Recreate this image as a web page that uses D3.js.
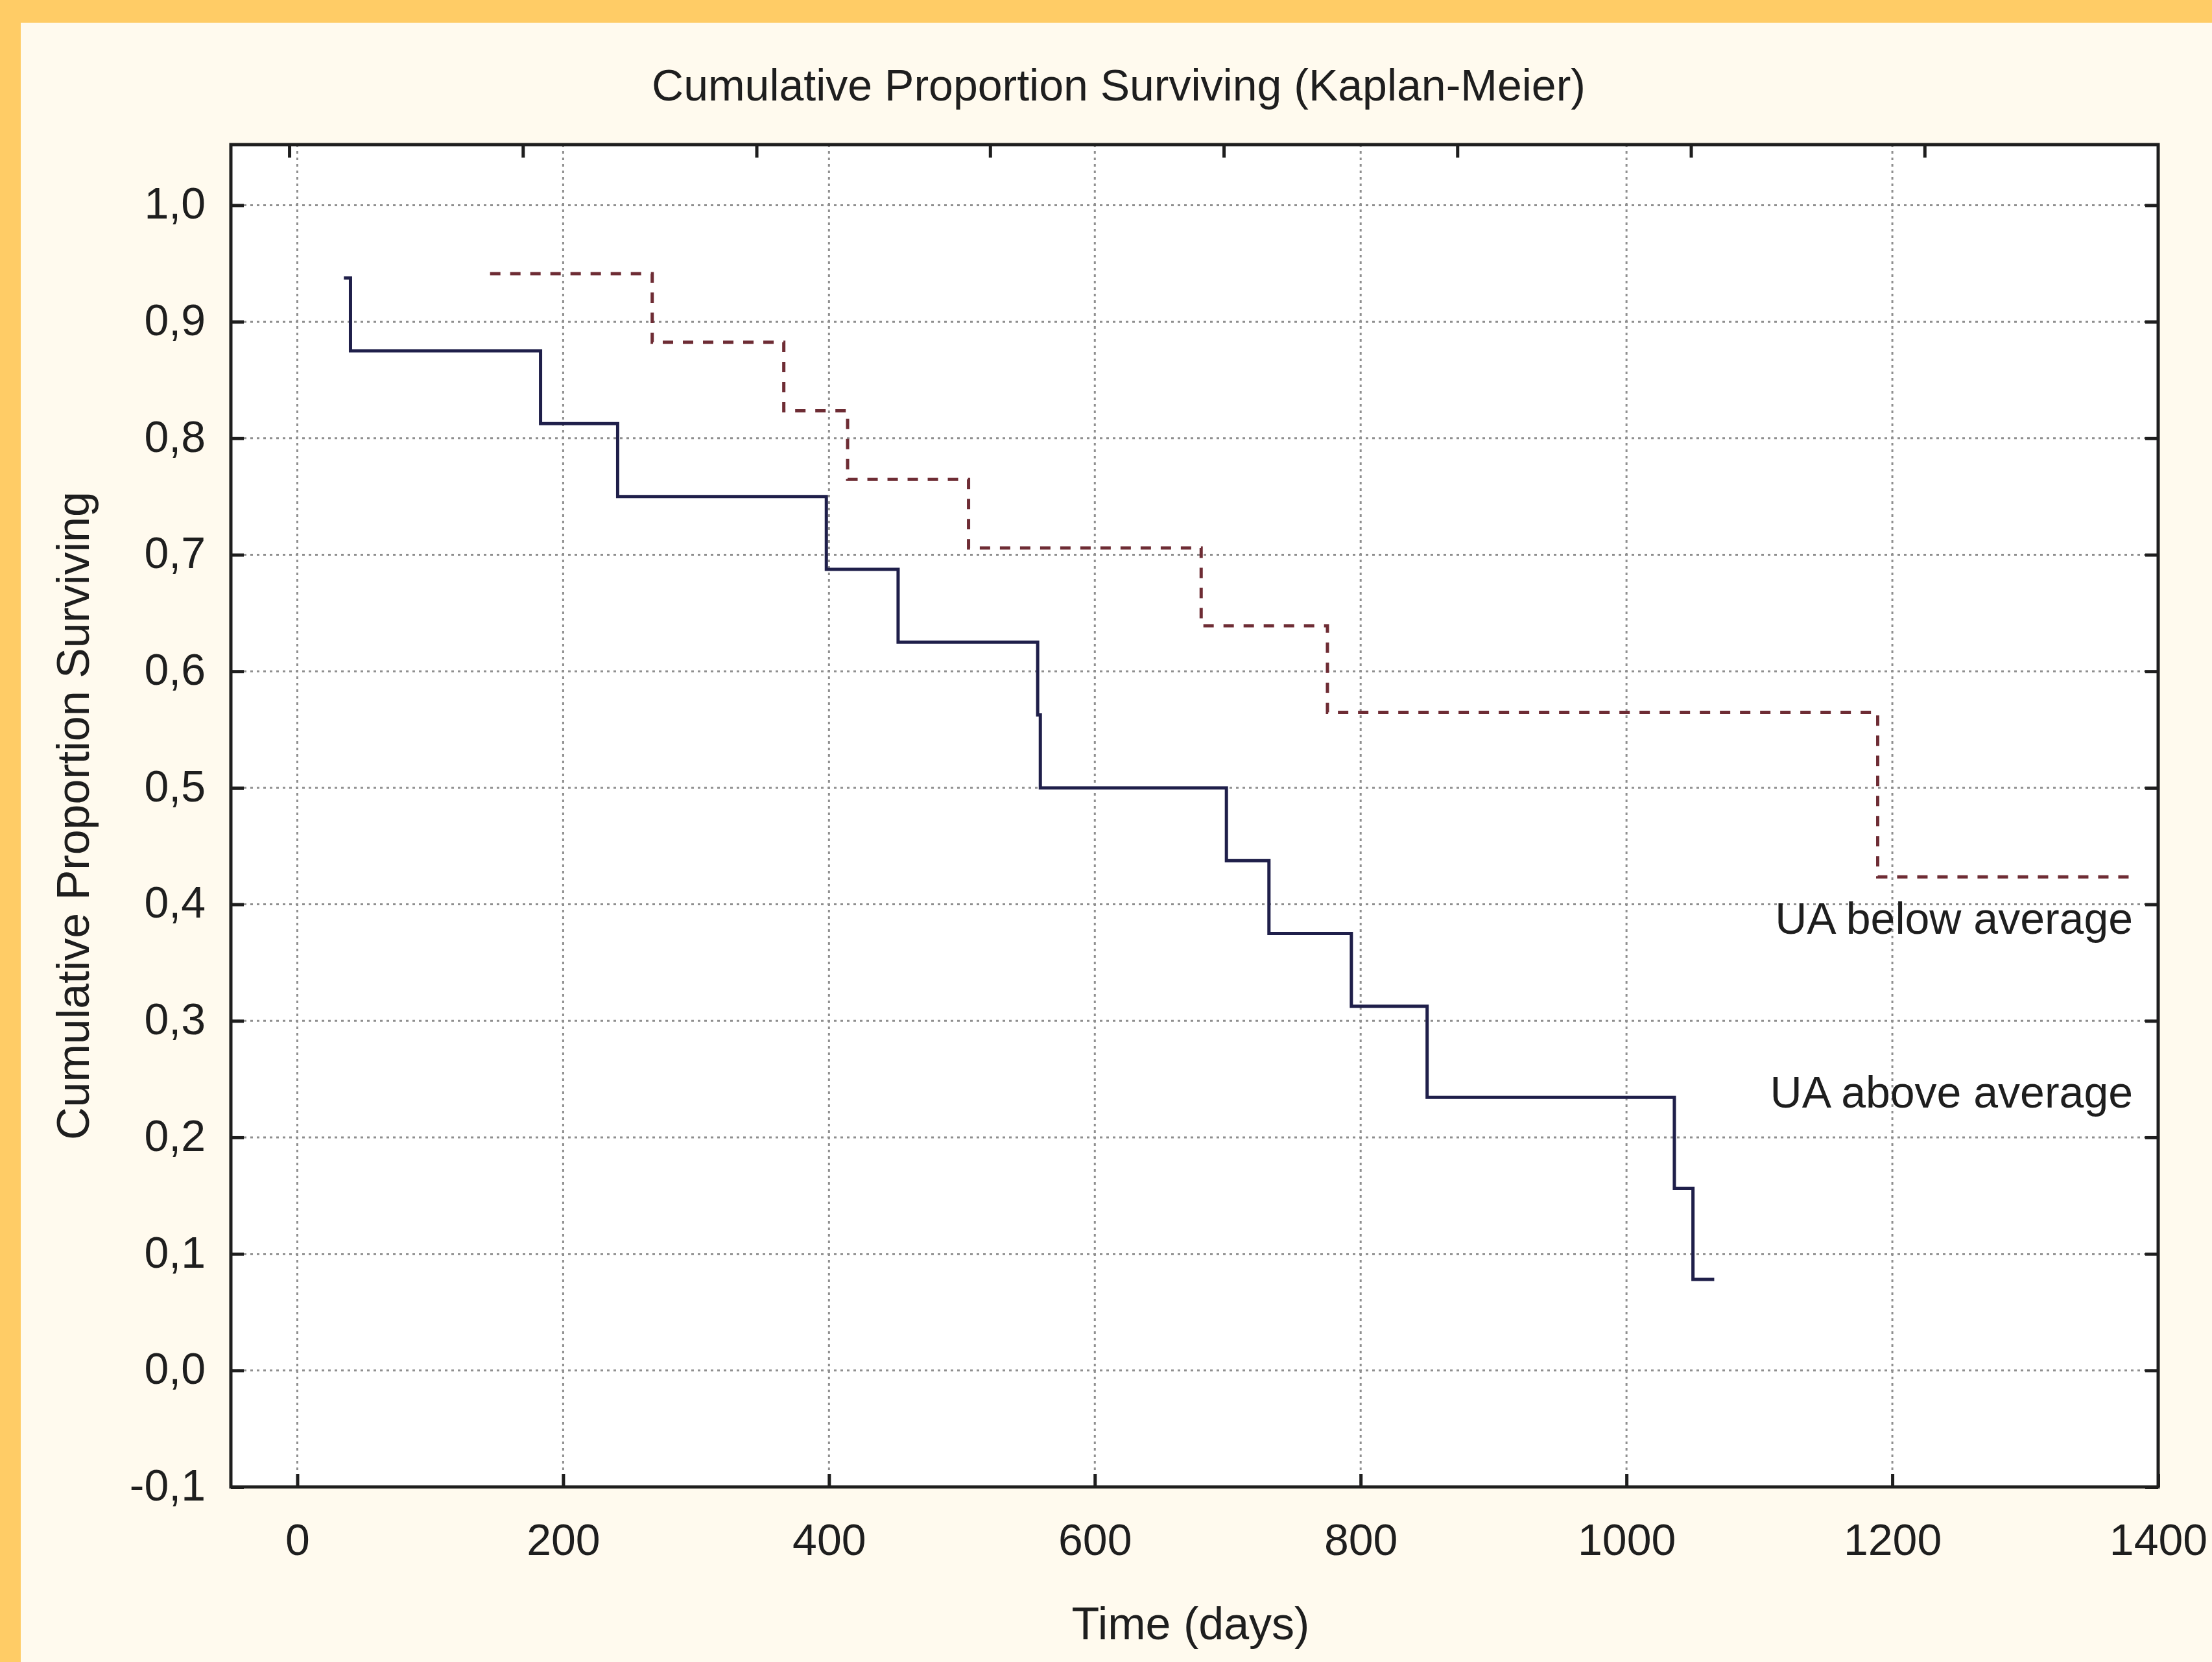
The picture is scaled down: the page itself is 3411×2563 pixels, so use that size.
<!DOCTYPE html>
<html>
<head>
<meta charset="utf-8">
<script src="https://cdn.jsdelivr.net/npm/d3@7"></script>
<style>
  html, body { margin: 0; padding: 0; background: #fffaee; }
  svg { display: block; }
  text { font-family: "Liberation Sans", Arial, sans-serif; fill: #1e1e1e; }
</style>
</head>
<body>
<svg width="3411" height="2563"></svg>
<script>
// KM estimates (time in days, proportion surviving after the event)
var aboveTimes  = [35, 40, 183, 241, 398, 452, 557, 559, 699, 731, 793, 850, 1036, 1050];
var aboveValues = [0.9375, 0.875, 0.8125, 0.75, 0.6875, 0.625, 0.5625, 0.5, 0.4375, 0.375, 0.3125, 0.2344, 0.1563, 0.0781];
var aboveEnd = 1066;

var belowTimes  = [145, 267, 366, 414, 505, 680, 775, 1189];
var belowValues = [0.9412, 0.8824, 0.8235, 0.7647, 0.7059, 0.639, 0.5647, 0.4235];
var belowEnd = 1381;

var seriesNames = ["UA above average", "UA below average"];
var xTicks = [0, 200, 400, 600, 800, 1000, 1200, 1400];
var yTicks = [-0.1, 0, 0.1, 0.2, 0.3, 0.4, 0.5, 0.6, 0.7, 0.8, 0.9, 1.0];

var svg = d3.select("svg"),
    width = +svg.attr("width"),
    height = +svg.attr("height");

// note: "top" is taken by window.top, so plot edges get their own names
var plotLeft = 356, plotRight = 3328, plotTop = 223, plotBottom = 2293;

var x = d3.scaleLinear().domain([-50, 1400]).range([plotLeft, plotRight]);
var y = d3.scaleLinear().domain([-0.1, 1.052]).range([plotBottom, plotTop]);
// the mirrored top axis has its own tick spacing
var xTop = d3.scaleLinear().domain([-0.25, 8]).range([plotLeft, plotRight]);

var comma = d3.formatLocale({decimal: ",", thousands: "", grouping: [3], currency: ["", ""], minus: "-"});

// background + orange edge
svg.append("rect").attr("width", width).attr("height", height).attr("fill", "#ffcc66");
svg.append("rect").attr("x", 32).attr("y", 35).attr("width", width - 32).attr("height", height - 35)
    .attr("fill", "#fffaee");

svg.append("rect")
    .attr("x", plotLeft).attr("y", plotTop)
    .attr("width", plotRight - plotLeft).attr("height", plotBottom - plotTop)
    .attr("fill", "#ffffff");

// grid
var grid = svg.append("g").attr("stroke", "#8f8f8f").attr("stroke-width", 3).attr("stroke-dasharray", "4,6");
grid.selectAll(".gx").data(xTicks).enter().append("line")
    .attr("x1", function(d) { return x(d); }).attr("x2", function(d) { return x(d); })
    .attr("y1", plotTop).attr("y2", plotBottom);
grid.selectAll(".gy").data(yTicks).enter().append("line")
    .attr("x1", plotLeft).attr("x2", plotRight)
    .attr("y1", function(d) { return y(d); }).attr("y2", function(d) { return y(d); });

// axes, ticks pointing inward
var xAxis = svg.append("g").attr("transform", "translate(0," + plotBottom + ")")
    .call(d3.axisBottom(x).tickValues(xTicks).tickSizeInner(-20).tickSizeOuter(0).tickPadding(57)
        .tickFormat(comma.format("d")));

var yAxis = svg.append("g").attr("transform", "translate(" + plotLeft + ",0)")
    .call(d3.axisLeft(y).tickValues(yTicks).tickSizeInner(-20).tickSizeOuter(0).tickPadding(39)
        .tickFormat(comma.format(".1f")));

svg.append("g").attr("transform", "translate(" + plotRight + ",0)")
    .call(d3.axisRight(y).tickValues(yTicks).tickSizeInner(-20).tickSizeOuter(0).tickFormat(""));

svg.append("g").attr("transform", "translate(0," + plotTop + ")")
    .call(d3.axisTop(xTop).tickValues(d3.range(0, 8)).tickSizeInner(-20).tickSizeOuter(0).tickFormat(""));

svg.selectAll(".domain").remove();
svg.selectAll(".tick line").attr("stroke", "#1e1e1e").attr("stroke-width", 5);
svg.selectAll(".tick text").style("font-size", "68px").attr("fill", "#1e1e1e");
yAxis.selectAll(".tick text").attr("dy", "0.3em");

// frame
svg.append("rect")
    .attr("x", plotLeft).attr("y", plotTop)
    .attr("width", plotRight - plotLeft).attr("height", plotBottom - plotTop)
    .attr("fill", "none").attr("stroke", "#1e1e1e").attr("stroke-width", 5);

// survival curves
function steps(times, values, end) {
    var pts = times.map(function(t, i) { return [t, values[i]]; });
    pts.push([end, values[values.length - 1]]);
    return pts;
}

var line = d3.line()
    .x(function(d) { return x(d[0]); })
    .y(function(d) { return y(d[1]); })
    .curve(d3.curveStepAfter);

svg.append("path")
    .datum(steps(belowTimes, belowValues, belowEnd))
    .attr("d", line)
    .attr("fill", "none")
    .attr("stroke", "#6e2c34")
    .attr("stroke-width", 5)
    .attr("stroke-dasharray", "16,15");

svg.append("path")
    .datum(steps(aboveTimes, aboveValues, aboveEnd))
    .attr("d", line)
    .attr("fill", "none")
    .attr("stroke", "#1f1f4a")
    .attr("stroke-width", 5);

// curve labels
svg.append("text")
    .attr("x", x(belowEnd)).attr("y", y(belowValues[belowValues.length - 1]) + 88)
    .attr("text-anchor", "end").style("font-size", "68px")
    .text(seriesNames[1]);

svg.append("text")
    .attr("x", x(belowEnd)).attr("y", y(0.2255))
    .attr("text-anchor", "end").style("font-size", "68px")
    .text(seriesNames[0]);

// titles
svg.append("text")
    .attr("x", 1725).attr("y", 155)
    .attr("text-anchor", "middle").style("font-size", "68px")
    .text("Cumulative Proportion Surviving (Kaplan-Meier)");

svg.append("text")
    .attr("x", 1836).attr("y", 2528)
    .attr("text-anchor", "middle").style("font-size", "70px")
    .text("Time (days)");

svg.append("text")
    .attr("transform", "translate(137," + (plotTop + plotBottom) / 2 + ") rotate(-90)")
    .attr("text-anchor", "middle").style("font-size", "70px")
    .text("Cumulative Proportion Surviving");
</script>
</body>
</html>
